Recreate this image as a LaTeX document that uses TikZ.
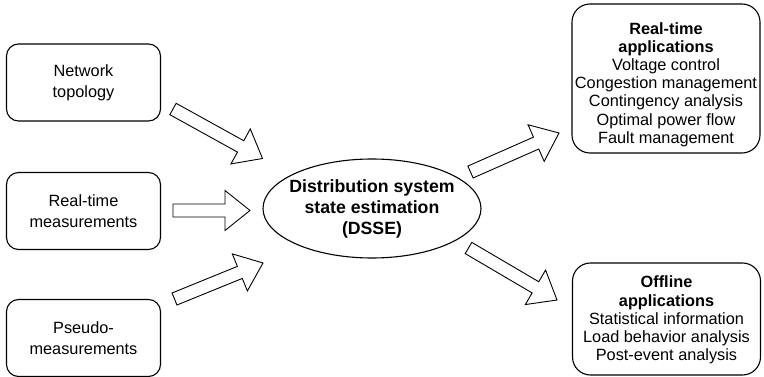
\documentclass[tikz,border=0pt]{standalone}
\usepackage{fontspec}
\setmainfont{Liberation Sans}
\usetikzlibrary{calc,shapes.geometric}

\tikzset{
  inbox/.style={draw=black, line width=1.1pt, rounded corners=12pt,
    minimum width=154pt, minimum height=77pt, align=center,
    font=\fontsize{16.3}{21}\selectfont},
  appbox/.style={draw=black, line width=1.1pt, rounded corners=18pt,
    minimum width=188pt, align=center},
  apptext/.style={align=center, inner sep=0pt, font=\fontsize{16.3}{18.2}\selectfont},
  core/.style={draw=black, line width=1.1pt, ellipse, minimum width=218pt,
    minimum height=99pt, inner xsep=-6pt, inner ysep=0pt, align=center,
    font=\fontsize{17.7}{21}\selectfont\bfseries},
  fatarrow/.style={draw=black, line width=0.9pt, fill=white, line join=miter}
}

% hollow block arrow from #1 (tail) to #2 (tip)
\newcommand{\blockarrow}[2]{%
  \coordinate (#1-hb) at ($(#2)!25pt!(#1)$);
  \draw[fatarrow]
    ($(#1)!6.5pt!90:(#2)$) -- ($(#1-hb)!6.5pt!90:(#2)$) --
    ($(#1-hb)!20pt!90:(#2)$) -- (#2) --
    ($(#1-hb)!20pt!-90:(#2)$) -- ($(#1-hb)!6.5pt!-90:(#2)$) --
    ($(#1)!6.5pt!-90:(#2)$) -- cycle;}

\begin{document}
\begin{tikzpicture}[x=1pt, y=-1pt]
  \useasboundingbox (0,0) rectangle (764,377);

  % input boxes
  \node[inbox] (topo)   at (83.5,82.5) {Network\\topology};
  \node[inbox] (meas)   at (83.5,211)  {Real-time\\measurements};
  \node[inbox] (pseudo) at (83.5,338)  {Pseudo-\\measurements};

  % estimator
  \node[core] (dsse) at (372,208.5) {Distribution system\\state estimation\\(DSSE)};

  % application boxes
  \node[appbox, minimum height=149pt] (rtbox) at (666,78.5) {};
  \node[apptext] (rttext) at (666,84.5)
    {\textbf{Real-time}\\\textbf{applications}\\Voltage control\\Congestion management\\Contingency analysis\\Optimal power flow\\Fault management};
  \node[appbox, minimum height=112pt] (offbox) at (666.5,319) {};
  \node[apptext] (offtext) at (666.5,320)
    {\textbf{Offline}\\\textbf{applications}\\Statistical information\\Load behavior analysis\\Post-event analysis};

  % arrow ends
  \coordinate (a1) at (173,109);   \coordinate (b1) at (262.5,158.5);
  \coordinate (a2) at (173,210.5); \coordinate (b2) at (250,210.5);
  \coordinate (a3) at (174.5,299); \coordinate (b3) at (263,263);
  \coordinate (a4) at (470.5,172); \coordinate (b4) at (559,133);
  \coordinate (a5) at (468.5,248); \coordinate (b5) at (557,300);

  \blockarrow{a1}{b1}
  \blockarrow{a2}{b2}
  \blockarrow{a3}{b3}
  \blockarrow{a4}{b4}
  \blockarrow{a5}{b5}
\end{tikzpicture}
\end{document}
